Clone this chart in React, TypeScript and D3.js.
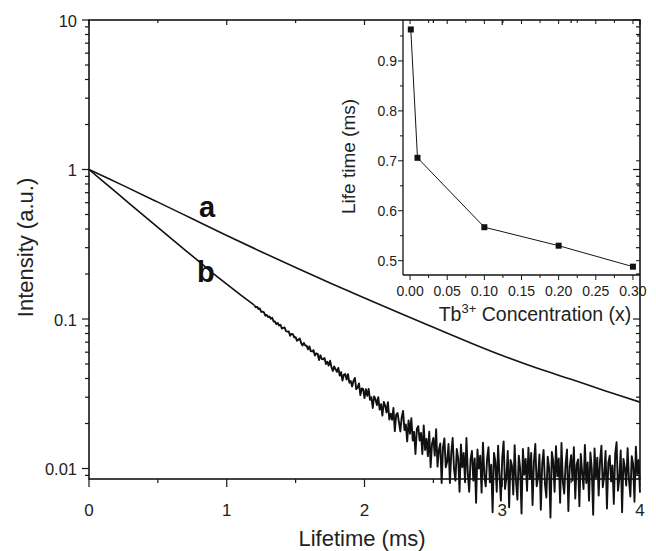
import React from 'react';
import * as d3 from 'd3';

const W = 656;
const H = 551;
const FONT = "'Liberation Sans', Arial, Helvetica, sans-serif";

// ---- Main chart: decay curve a (smooth) ----
const curveATimes = [0, 0.25, 0.5, 0.75, 1, 1.25, 1.5, 1.75, 2, 2.25, 2.5, 2.75, 3, 3.25, 3.5, 3.75, 4];
const curveAValues = [1, 0.78, 0.605, 0.468, 0.362, 0.282, 0.221, 0.174, 0.138, 0.11, 0.088, 0.0705, 0.057, 0.047, 0.0395, 0.033, 0.0278];

// ---- Main chart: decay curve b, early part ----
const curveBEarlyTimes = [0, 0.1, 0.2, 0.3, 0.4, 0.5, 0.6, 0.7, 0.8, 0.9, 1.0, 1.1, 1.2];
const curveBEarlyValues = [1, 0.835, 0.7, 0.585, 0.49, 0.41, 0.343, 0.288, 0.242, 0.202, 0.171, 0.145, 0.1238];

// ---- Main chart: decay curve b, noisy late part (sampled every 0.01 ms from 1.2 ms, units of 1e-4) ----
const curveBLateStart = 1.2;
const curveBLateStep = 0.01;
const curveBLateUnit = 1e-4;
const curveBLateValues = [
  1238, 1199, 1207, 1168, 1176, 1117, 1119, 1108, 1053, 1065,
  1031, 1041, 1005, 1020, 962, 962, 924, 941, 905, 915,
  864, 872, 877, 829, 824, 827, 772, 795, 793, 753,
  757, 715, 726, 741, 691, 665, 692, 664, 663, 627,
  656, 610, 607, 619, 570, 589, 585, 532, 572, 540,
  538, 548, 500, 517, 488, 526, 478, 450, 482, 461,
  443, 471, 418, 441, 388, 423, 429, 394, 427, 375,
  385, 354, 386, 404, 340, 348, 371, 310, 343, 341,
  296, 339, 306, 341, 288, 300, 254, 304, 291, 266,
  300, 248, 269, 226, 279, 264, 237, 278, 213, 233,
  212, 254, 178, 229, 235, 204, 177, 220, 243, 181,
  197, 152, 210, 171, 217, 154, 176, 125, 184, 192,
  154, 173, 125, 194, 133, 158, 121, 176, 102, 146,
  160, 122, 183, 103, 133, 147, 80, 139, 159, 102,
  111, 146, 80, 128, 160, 99, 83, 135, 117, 70,
  145, 102, 127, 81, 160, 93, 70, 115, 131, 83,
  117, 59, 134, 100, 122, 69, 149, 90, 76, 116,
  139, 81, 106, 51, 127, 111, 70, 142, 90, 61,
  118, 152, 73, 87, 131, 55, 114, 105, 67, 143,
  82, 62, 122, 100, 50, 135, 91, 116, 71, 138,
  85, 127, 57, 111, 146, 76, 88, 124, 53, 107,
  133, 79, 64, 120, 101, 47, 129, 112, 70, 141,
  89, 117, 59, 148, 81, 68, 108, 134, 52, 103,
  123, 83, 139, 63, 106, 115, 56, 125, 94, 73,
  144, 80, 110, 61, 128, 99, 49, 136, 87, 118,
  66, 113, 142, 75, 90, 131, 54, 109, 122, 82,
  105, 58, 126, 150, 71, 86, 132, 51, 116, 101,
  77, 137, 84, 65, 121, 107, 60, 140, 92, 114, 69,
];

// ---- Main axes ticks ----
const mainXTicks = [0, 1, 2, 3, 4];
const mainXTickLabels = ['0', '1', '2', '3', '4'];
const mainYTicks = [0.01, 0.1, 1, 10];
const mainYTickLabels = ['0.01', '0.1', '1', '10'];

// ---- Inset data ----
const insetConc = [0.001, 0.01, 0.1, 0.2, 0.3];
const insetLifetime = [0.963, 0.706, 0.567, 0.53, 0.488];
const insetXTicks = [0, 0.05, 0.1, 0.15, 0.2, 0.25, 0.3];
const insetXTickLabels = ['0.00', '0.05', '0.10', '0.15', '0.20', '0.25', '0.30'];
const insetXMinorTicks = [0.025, 0.075, 0.125, 0.175, 0.225, 0.275];
const insetYTicks = [0.5, 0.6, 0.7, 0.8, 0.9];
const insetYTickLabels = ['0.5', '0.6', '0.7', '0.8', '0.9'];
const insetYMinorTicks = [0.55, 0.65, 0.75, 0.85, 0.95];

export default function App() {
  const x = d3.scaleLinear().domain([0, 4]).range([89, 640]);
  const y = d3.scaleLog().domain([0.00851, 10]).range([479, 20]);
  const ix = d3.scaleLinear().domain([-0.0095, 0.3095]).range([403, 640]);
  const iy = d3.scaleLinear().domain([0.4713, 0.982]).range([275, 20]);

  const smooth = d3.line<[number, number]>().curve(d3.curveCatmullRom.alpha(0.5));
  const straight = d3.line<[number, number]>();

  const aPts: [number, number][] = curveATimes.map((t, i) => [x(t), y(curveAValues[i])]);
  const bEarlyPts: [number, number][] = curveBEarlyTimes.map((t, i) => [x(t), y(curveBEarlyValues[i])]);
  const bLatePts: [number, number][] = curveBLateValues.map((v, i) => [
    x(curveBLateStart + i * curveBLateStep),
    y(v * curveBLateUnit),
  ]);
  const insetPts: [number, number][] = insetConc.map((c, i) => [ix(c), iy(insetLifetime[i])]);

  const yAll = y.ticks();
  const isMajorLog = (v: number) => Math.abs(Math.log10(v) - Math.round(Math.log10(v))) < 1e-6;
  const xAll = x.ticks(8);

  const stroke = '#151515';

  return (
    <svg width={W} height={H} style={{ position: 'absolute', left: 0, top: 0, background: '#fff' }} fontFamily={FONT}>
      <rect x={0} y={0} width={W} height={H} fill="#fff" />

      {/* main frame */}
      <rect x={89} y={20} width={551} height={459} fill="none" stroke={stroke} strokeWidth={1.6} />

      {/* main y ticks (left outward, right inward) */}
      {yAll.map((v, i) => {
        const len = isMajorLog(v) ? 7 : 4;
        return (
          <g key={'yt' + i} stroke={stroke} strokeWidth={1.2}>
            <line x1={89} x2={89 - len} y1={y(v)} y2={y(v)} />
            <line x1={640} x2={640 - len} y1={y(v)} y2={y(v)} />
          </g>
        );
      })}
      {/* main x ticks */}
      {xAll.map((v, i) => {
        const major = Math.abs(v - Math.round(v)) < 1e-6;
        const len = major ? 8 : 4;
        return (
          <g key={'xt' + i} stroke={stroke} strokeWidth={1.2}>
            <line x1={x(v)} x2={x(v)} y1={479} y2={479 + len} />
            <line x1={x(v)} x2={x(v)} y1={20} y2={20 + (major ? 5 : 3)} />
          </g>
        );
      })}
      {mainYTicks.map((v, i) => (
        <text key={'yl' + i} x={77} y={y(v) + 6.5} textAnchor="end" fontSize={16.5} fill="#222">
          {mainYTickLabels[i]}
        </text>
      ))}
      {mainXTicks.map((v, i) => (
        <text key={'xl' + i} x={x(v)} y={515.5} textAnchor="middle" fontSize={17} fill="#222">
          {mainXTickLabels[i]}
        </text>
      ))}
      <text x={362} y={546} textAnchor="middle" fontSize={22} fill="#222">Lifetime (ms)</text>
      <text transform="translate(33,247.5) rotate(-90)" textAnchor="middle" fontSize={22} fill="#222">
        Intensity (a.u.)
      </text>

      {/* curves */}
      <path d={smooth(aPts) || ''} fill="none" stroke={stroke} strokeWidth={1.6} />
      <path d={straight(bEarlyPts) || ''} fill="none" stroke="#111" strokeWidth={1.6} strokeLinejoin="round" />
      <path d={straight(bLatePts) || ''} fill="none" stroke="#111" strokeWidth={1.9} strokeLinejoin="round" />
      <text x={199} y={217} fontSize={29} fontWeight="bold" fill="#111">a</text>
      <text x={197} y={282} fontSize={29} fontWeight="bold" fill="#111">b</text>

      {/* inset */}
      <g>
        <line x1={403} x2={403} y1={20} y2={275} stroke={stroke} strokeWidth={1.3} />
        <line x1={403} x2={640} y1={275} y2={275} stroke={stroke} strokeWidth={1.3} />
        {insetYTicks.map((v, i) => (
          <g key={'iyt' + i} stroke={stroke} strokeWidth={1}>
            <line x1={403} x2={398} y1={iy(v)} y2={iy(v)} />
            <line x1={640} x2={636} y1={iy(v)} y2={iy(v)} />
          </g>
        ))}
        {insetYMinorTicks.map((v, i) => (
          <g key={'iym' + i} stroke={stroke} strokeWidth={1}>
            <line x1={403} x2={400} y1={iy(v)} y2={iy(v)} />
            <line x1={640} x2={637} y1={iy(v)} y2={iy(v)} />
          </g>
        ))}
        {insetXTicks.map((v, i) => (
          <g key={'ixt' + i} stroke={stroke} strokeWidth={1}>
            <line x1={ix(v)} x2={ix(v)} y1={275} y2={280} />
            <line x1={ix(v)} x2={ix(v)} y1={20} y2={24} />
          </g>
        ))}
        {insetXMinorTicks.map((v, i) => (
          <g key={'ixm' + i} stroke={stroke} strokeWidth={1}>
            <line x1={ix(v)} x2={ix(v)} y1={275} y2={278} />
            <line x1={ix(v)} x2={ix(v)} y1={20} y2={23} />
          </g>
        ))}
        {insetYTicks.map((v, i) => (
          <text key={'iyl' + i} x={397} y={iy(v) + 5} textAnchor="end" fontSize={14} fill="#222">
            {insetYTickLabels[i]}
          </text>
        ))}
        {insetXTicks.map((v, i) => (
          <text key={'ixl' + i} x={ix(v)} y={296} textAnchor="middle" fontSize={14} fill="#222">
            {insetXTickLabels[i]}
          </text>
        ))}
        <text transform="translate(355,156.5) rotate(-90)" textAnchor="middle" fontSize={19} fill="#222">
          Life time (ms)
        </text>
        <text x={535} y={320.5} textAnchor="middle" fontSize={19.5} fill="#222">
          Tb<tspan dy={-8} fontSize={13}>3+</tspan>
          <tspan dy={8}> Concentration (x)</tspan>
        </text>
        <path d={straight(insetPts) || ''} fill="none" stroke={stroke} strokeWidth={1} />
        {insetPts.map((p, i) => (
          <rect key={'im' + i} x={p[0] - 3} y={p[1] - 3} width={6} height={6} fill="#111" />
        ))}
      </g>
    </svg>
  );
}
